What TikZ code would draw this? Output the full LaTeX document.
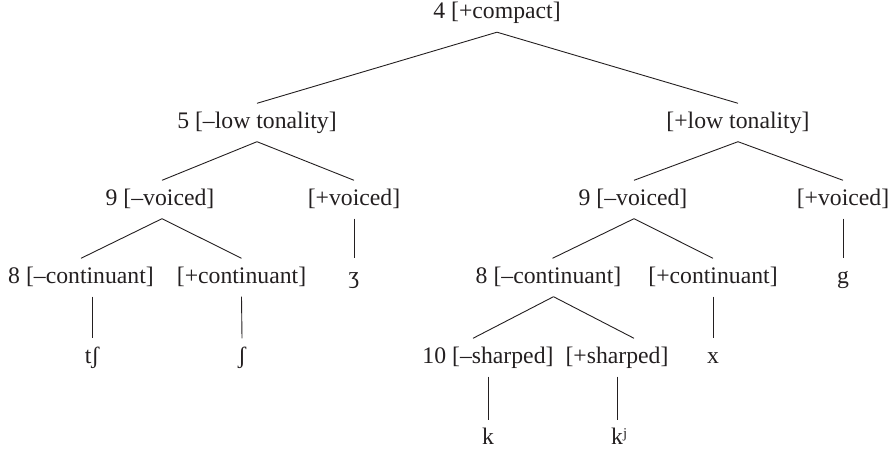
\documentclass[tikz,border=0pt]{standalone}
\usepackage{fontspec}
\setmainfont{Liberation Serif}
\usetikzlibrary{calc}
\definecolor{ink}{RGB}{35,31,32}
\begin{document}
\begin{tikzpicture}[x=1bp,y=-1bp,
  lab/.style={font=\fontsize{23.8}{28}\selectfont, text=ink, text height=16.4bp, text depth=5.2bp, inner xsep=0pt, inner ysep=8.2bp},
  edge/.style={draw=ink, line width=0.9bp}]
\useasboundingbox (0,0) rectangle (891,450);
\node[lab] (root) at (497,13) {4 [+compact]};
\node[lab] (loA) at (257,122.5) {5 [–low tonality]};
\node[lab] (loB) at (738,122.5) {[+low tonality]};
\node[lab] (vaA) at (160,199.5) {9 [–voiced]};
\node[lab] (vaB) at (354,199.5) {[+voiced]};
\node[lab] (vbA) at (633,199.5) {9 [–voiced]};
\node[lab] (vbB) at (843,199.5) {[+voiced]};
\node[lab] (caA) at (81,277.5) {8 [–continuant]};
\node[lab] (caB) at (241.5,277.5) {[+continuant]};
\node[lab] (zh) at (354,277.5) {ʒ};
\node[lab] (cbA) at (548.5,277.5) {8 [–continuant]};
\node[lab] (cbB) at (713,277.5) {[+continuant]};
\node[lab] (gg) at (843,277.5) {g};
\node[lab] (tsh) at (92,357.5) {tʃ};
\node[lab] (sh) at (242,357.5) {ʃ};
\node[lab] (sA) at (488,357.5) {10 [–sharped]};
\node[lab] (sB) at (617,357.5) {[+sharped]};
\node[lab] (xx) at (713,357.5) {x};
\node[lab] (kk) at (488,439) {k};
\node[lab] (kj) at (617,439) {k\rlap{ʲ}};
\draw[edge] (root.south) -- (loA.north);
\draw[edge] (root.south) -- (loB.north);
\draw[edge] (loA.south) -- ($(vaA.north)+(2,0)$);
\draw[edge] (loA.south) -- (vaB.north);
\draw[edge] (loB.south) -- ($(vbA.north)+(1,0)$);
\draw[edge] (loB.south) -- (vbB.north);
\draw[edge] ($(vaA.south)+(2,0)$) -- (caA.north);
\draw[edge] ($(vaA.south)+(2,0)$) -- (caB.north);
\draw[edge] (vaB.south) -- (zh.north);
\draw[edge] ($(vbA.south)+(1,0)$) -- ($(cbA.north)+(4,0)$);
\draw[edge] ($(vbA.south)+(1,0)$) -- (cbB.north);
\draw[edge] (vbB.south) -- (gg.north);
\draw[edge] (caA.south -| tsh) -- (tsh.north);
\draw[edge] (caB.south) -- (sh.north);
\draw[edge] ($(cbA.south)+(5,0)$) -- ($(sA.north)+(-15,0)$);
\draw[edge] ($(cbA.south)+(5,0)$) -- ($(sB.north)+(17,0)$);
\draw[edge] (cbB.south) -- (xx.north);
\draw[edge] (sA.south) -- (kk.north);
\draw[edge] (sB.south) -- (kj.north);
\end{tikzpicture}
\end{document}
